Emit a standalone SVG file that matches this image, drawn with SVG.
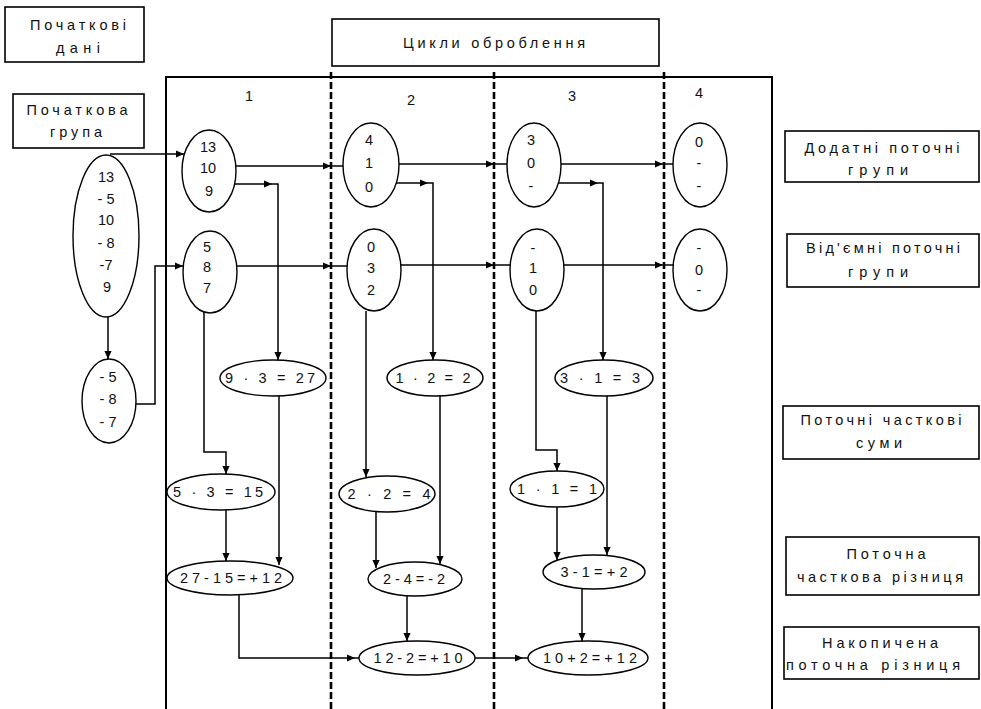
<svg xmlns="http://www.w3.org/2000/svg" width="981" height="709" viewBox="0 0 981 709">
<style>
  .box{fill:#fff;stroke:#000;stroke-width:1.6}
  .lbl{font-family:"Liberation Sans",Arial,sans-serif;font-size:14.5px;fill:#111;text-anchor:middle}
  .num{font-family:"Liberation Sans",Arial,sans-serif;font-size:14.5px;fill:#111;text-anchor:middle}
  .el{fill:#fff;stroke:#000;stroke-width:1.4}
  .frame{fill:none;stroke:#000;stroke-width:2}
  .dash{fill:none;stroke:#000;stroke-width:2.6;stroke-dasharray:7 3}
  .c{fill:none;stroke:#000;stroke-width:1.5}
  .a{marker-end:url(#ah)}
</style>
<defs>
  <marker id="ah" viewBox="0 0 10 10" refX="10" refY="5" markerWidth="10" markerHeight="8" markerUnits="userSpaceOnUse" orient="auto">
    <path d="M0,0.5 L10,5 L0,9.5 z" fill="#000"/>
  </marker>
</defs>
<rect width="981" height="709" fill="#fff"/>

<g id="frame">
  <path class="frame" d="M166,709 V77 H772 V709"/>
  <line class="dash" x1="331" y1="72" x2="331" y2="709"/>
  <line class="dash" x1="494" y1="72" x2="494" y2="709"/>
  <line class="dash" x1="664" y1="72" x2="664" y2="709"/>
  <text class="num" x="249" y="101">1</text>
  <text class="num" x="411" y="105">2</text>
  <text class="num" x="572" y="101">3</text>
  <text class="num" x="699" y="98">4</text>
</g>

<g id="label-initial-data">
  <rect class="box" x="5" y="7" width="139" height="55"/>
  <text class="lbl" x="78" y="30" textLength="96" lengthAdjust="spacing">Початкові</text>
  <text class="lbl" x="78" y="53" textLength="44" lengthAdjust="spacing">дані</text>
</g>
<g id="label-cycles">
  <rect class="box" x="332" y="19" width="327" height="47"/>
  <text class="lbl" x="494" y="48" textLength="182" lengthAdjust="spacing">Цикли оброблення</text>
</g>
<g id="label-initial-group">
  <rect class="box" x="13" y="94" width="131" height="54"/>
  <text class="lbl" x="77" y="115" textLength="101" lengthAdjust="spacing">Початкова</text>
  <text class="lbl" x="76" y="137" textLength="52" lengthAdjust="spacing">група</text>
</g>
<g id="label-positive">
  <rect class="box" x="785" y="131" width="194" height="51"/>
  <text class="lbl" x="882" y="153" textLength="155" lengthAdjust="spacing">Додатні поточні</text>
  <text class="lbl" x="878" y="175" textLength="60" lengthAdjust="spacing">групи</text>
</g>
<g id="label-negative">
  <rect class="box" x="787" y="234" width="192" height="53"/>
  <text class="lbl" x="883" y="253" textLength="154" lengthAdjust="spacing">Від'ємні поточні</text>
  <text class="lbl" x="878" y="277" textLength="60" lengthAdjust="spacing">групи</text>
</g>
<g id="label-partial-sums">
  <rect class="box" x="783" y="406" width="196" height="53"/>
  <text class="lbl" x="881" y="425" textLength="161" lengthAdjust="spacing">Поточні часткові</text>
  <text class="lbl" x="879" y="448" textLength="46" lengthAdjust="spacing">суми</text>
</g>
<g id="label-partial-diff">
  <rect class="box" x="786" y="537" width="193" height="58"/>
  <text class="lbl" x="886" y="559" textLength="79" lengthAdjust="spacing">Поточна</text>
  <text class="lbl" x="880" y="582" textLength="166" lengthAdjust="spacing">часткова різниця</text>
</g>
<g id="label-accum-diff">
  <rect class="box" x="784" y="627" width="195" height="52"/>
  <text class="lbl" x="880" y="648" textLength="116" lengthAdjust="spacing">Накопичена</text>
  <text class="lbl" x="873" y="670" textLength="174" lengthAdjust="spacing">поточна різниця</text>
</g>

<g id="connectors">
  <path class="c a" d="M110,154 H184"/>
  <path class="c a" d="M108,317 V359"/>
  <path class="c a" d="M136,404 H155 V266 H183"/>
  <path class="c a" d="M236,166 H331"/>
  <path class="c" d="M331,166 H343"/>
  <path class="c a" d="M233,184 H272"/>
  <path class="c a" d="M272,184 H278 V360"/>
  <path class="c a" d="M237,266 H331"/>
  <path class="c" d="M331,266 H347"/>
  <path class="c a" d="M204,312 V452 H226 V474"/>
  <path class="c a" d="M279,396 V565"/>
  <path class="c a" d="M226,510 V561"/>
  <path class="c a" d="M239,595 V658 H355"/>
  <path class="c" d="M355,658 H359"/>
  <path class="c a" d="M399,164 H494"/>
  <path class="c" d="M494,164 H507"/>
  <path class="c a" d="M395,183 H428"/>
  <path class="c a" d="M428,183 H433 V360"/>
  <path class="c a" d="M401,265 H494"/>
  <path class="c" d="M494,265 H510"/>
  <path class="c a" d="M366,311 V477"/>
  <path class="c a" d="M440,396 V564"/>
  <path class="c a" d="M376,512 V568"/>
  <path class="c a" d="M407,596 V641"/>
  <path class="c a" d="M475,658 H523"/>
  <path class="c" d="M523,658 H528"/>
  <path class="c a" d="M561,164 H663"/>
  <path class="c" d="M663,164 H673"/>
  <path class="c a" d="M557,183 H598"/>
  <path class="c a" d="M598,183 H603 V360"/>
  <path class="c a" d="M564,265 H663"/>
  <path class="c" d="M663,265 H673"/>
  <path class="c a" d="M536,311 V450 H557 V471"/>
  <path class="c a" d="M607,396 V555"/>
  <path class="c a" d="M557,507 V560"/>
  <path class="c a" d="M582,589 V641"/>
</g>

<g id="initial">
  <ellipse class="el" cx="106" cy="236" rx="33" ry="81"/>
  <text class="num" x="106" y="182">13</text>
  <text class="num" x="106" y="204">- 5</text>
  <text class="num" x="106" y="225">10</text>
  <text class="num" x="106" y="248">- 8</text>
  <text class="num" x="106" y="270">-7</text>
  <text class="num" x="107" y="292">9</text>
</g>
<g id="neg-initial">
  <ellipse class="el" cx="109" cy="401" rx="27" ry="42"/>
  <text class="num" x="108" y="382">- 5</text>
  <text class="num" x="108" y="404">- 8</text>
  <text class="num" x="108" y="427">- 7</text>
</g>
<g id="pos1">
  <ellipse class="el" cx="209" cy="171" rx="27" ry="41"/>
  <text class="num" x="208" y="152">13</text>
  <text class="num" x="208" y="173">10</text>
  <text class="num" x="209" y="196">9</text>
</g>
<g id="neg1">
  <ellipse class="el" cx="210" cy="272" rx="27" ry="41"/>
  <text class="num" x="207" y="252">5</text>
  <text class="num" x="207" y="272">8</text>
  <text class="num" x="207" y="293">7</text>
</g>
<g id="pos2">
  <ellipse class="el" cx="371" cy="165" rx="28" ry="42"/>
  <text class="num" x="369" y="145">4</text>
  <text class="num" x="369" y="168">1</text>
  <text class="num" x="369" y="192">0</text>
</g>
<g id="neg2">
  <ellipse class="el" cx="374" cy="270" rx="27" ry="41"/>
  <text class="num" x="371" y="252">0</text>
  <text class="num" x="371" y="273">3</text>
  <text class="num" x="371" y="295">2</text>
</g>
<g id="pos3">
  <ellipse class="el" cx="534" cy="165" rx="27" ry="42"/>
  <text class="num" x="531" y="145">3</text>
  <text class="num" x="531" y="168">0</text>
  <text class="num" x="531" y="191">-</text>
</g>
<g id="neg3">
  <ellipse class="el" cx="537" cy="270" rx="27" ry="41"/>
  <text class="num" x="533" y="253">-</text>
  <text class="num" x="533" y="273">1</text>
  <text class="num" x="533" y="295">0</text>
</g>
<g id="pos4">
  <ellipse class="el" cx="700" cy="165" rx="27" ry="42"/>
  <text class="num" x="699" y="147">0</text>
  <text class="num" x="699" y="168">-</text>
  <text class="num" x="699" y="191">-</text>
</g>
<g id="neg4">
  <ellipse class="el" cx="700" cy="270" rx="27" ry="41"/>
  <text class="num" x="699" y="253">-</text>
  <text class="num" x="699" y="275">0</text>
  <text class="num" x="699" y="295">-</text>
</g>
<g id="sum1p">
  <ellipse class="el" cx="273" cy="378" rx="53" ry="18"/>
  <text class="num" x="270" y="383" textLength="90" lengthAdjust="spacing">9 · 3 = 27</text>
</g>
<g id="sum1n">
  <ellipse class="el" cx="221" cy="492" rx="54" ry="18"/>
  <text class="num" x="218" y="497" textLength="90" lengthAdjust="spacing">5 · 3 = 15</text>
</g>
<g id="diff1">
  <ellipse class="el" cx="230" cy="578" rx="63" ry="17"/>
  <text class="num" x="231" y="583" textLength="102" lengthAdjust="spacing">27-15=+12</text>
</g>
<g id="sum2p">
  <ellipse class="el" cx="435" cy="378" rx="48" ry="18"/>
  <text class="num" x="433" y="383" textLength="75" lengthAdjust="spacing">1 · 2 = 2</text>
</g>
<g id="sum2n">
  <ellipse class="el" cx="387" cy="494" rx="48" ry="18"/>
  <text class="num" x="389" y="499" textLength="83" lengthAdjust="spacing">2 · 2 = 4</text>
</g>
<g id="diff2">
  <ellipse class="el" cx="415" cy="579" rx="47" ry="17"/>
  <text class="num" x="414" y="584" textLength="62" lengthAdjust="spacing">2-4=-2</text>
</g>
<g id="acc2">
  <ellipse class="el" cx="417" cy="658" rx="58" ry="17"/>
  <text class="num" x="418" y="663" textLength="89" lengthAdjust="spacing">12-2=+10</text>
</g>
<g id="sum3p">
  <ellipse class="el" cx="604" cy="378" rx="49" ry="18"/>
  <text class="num" x="600" y="383" textLength="80" lengthAdjust="spacing">3 · 1 = 3</text>
</g>
<g id="sum3n">
  <ellipse class="el" cx="557" cy="489" rx="47" ry="18"/>
  <text class="num" x="557" y="494" textLength="80" lengthAdjust="spacing">1 · 1 = 1</text>
</g>
<g id="diff3">
  <ellipse class="el" cx="594" cy="572" rx="51" ry="17"/>
  <text class="num" x="594" y="577" textLength="67" lengthAdjust="spacing">3-1=+2</text>
</g>
<g id="acc3">
  <ellipse class="el" cx="588" cy="658" rx="60" ry="17"/>
  <text class="num" x="590" y="663" textLength="94" lengthAdjust="spacing">10+2=+12</text>
</g>
</svg>
